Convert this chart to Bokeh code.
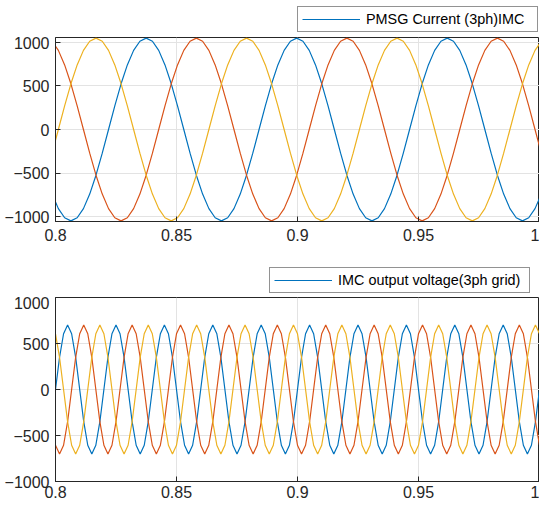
import numpy as np
from bokeh.plotting import figure
from bokeh.layouts import column
from bokeh.models import (Legend, LegendItem, FixedTicker,
                          NumeralTickFormatter, Range1d)
from bokeh.embed import file_html
from bokeh.resources import INLINE

# ---------------- data ----------------
x_ticks = [0.8, 0.85, 0.9, 0.95, 1.0]
y_ticks = [-1000, -500, 0, 500, 1000]
top_label = "PMSG Current (3ph)IMC"
bot_label = "IMC output voltage(3ph grid)"

# top panel: 3-phase PMSG current, read every 1/24 of a period (period ~0.0622 s)
top_t_first = 0.79859
top_t_step = 0.0025917
top_blue = [-742, -909, -1014,
            -1050, -1014, -909, -742, -525, -272, 0, 272, 525, 742, 909, 1014, 1050, 1014, 909, 742, 525, 272, 0, -272, -525, -742, -909, -1014,
            -1050, -1014, -909, -742, -525, -272, 0, 272, 525, 742, 909, 1014, 1050, 1014, 909, 742, 525, 272, 0, -272, -525, -742, -909, -1014,
            -1050, -1014, -909, -742, -525, -272, 0, 272, 525, 742, 909, 1014, 1050, 1014, 909, 742, 525, 272, 0, -272, -525, -742, -909, -1014,
            -1050, -1014, -909, -742]
top_red = [1014, 909, 742, 525, 272, 0, -272, -525, -742, -909, -1014,
           -1050, -1014, -909, -742, -525, -272, 0, 272, 525, 742, 909, 1014, 1050, 1014, 909, 742, 525, 272, 0, -272, -525, -742, -909, -1014,
           -1050, -1014, -909, -742, -525, -272, 0, 272, 525, 742, 909, 1014, 1050, 1014, 909, 742, 525, 272, 0, -272, -525, -742, -909, -1014,
           -1050, -1014, -909, -742, -525, -272, 0, 272, 525, 742, 909, 1014, 1050, 1014, 909, 742, 525, 272, 0, -272]
top_yellow = [-272, 0, 272, 525, 742, 909, 1014, 1050, 1014, 909, 742, 525, 272, 0, -272, -525, -742, -909, -1014,
              -1050, -1014, -909, -742, -525, -272, 0, 272, 525, 742, 909, 1014, 1050, 1014, 909, 742, 525, 272, 0, -272, -525, -742, -909, -1014,
              -1050, -1014, -909, -742, -525, -272, 0, 272, 525, 742, 909, 1014, 1050, 1014, 909, 742, 525, 272, 0, -272, -525, -742, -909, -1014,
              -1050, -1014, -909, -742, -525, -272, 0, 272, 525, 742, 909, 1014]

# bottom panel: 3-phase grid voltage, read every 1/12 of a period (50 Hz)
bot_t_first = 0.8
bot_t_step = 0.02 / 12
bot_blue = [0, 350, 606, 700, 606, 350, 0, -350, -606, -700, -606, -350,
            0, 350, 606, 700, 606, 350, 0, -350, -606, -700, -606, -350,
            0, 350, 606, 700, 606, 350, 0, -350, -606, -700, -606, -350,
            0, 350, 606, 700, 606, 350, 0, -350, -606, -700, -606, -350,
            0, 350, 606, 700, 606, 350, 0, -350, -606, -700, -606, -350,
            0, 350, 606, 700, 606, 350, 0, -350, -606, -700, -606, -350,
            0, 350, 606, 700, 606, 350, 0, -350, -606, -700, -606, -350,
            0, 350, 606, 700, 606, 350, 0, -350, -606, -700, -606, -350,
            0, 350, 606, 700, 606, 350, 0, -350, -606, -700, -606, -350,
            0, 350, 606, 700, 606, 350, 0, -350, -606, -700, -606, -350,
            0]
bot_red = [-606, -700, -606, -350,
           0, 350, 606, 700, 606, 350, 0, -350, -606, -700, -606, -350,
           0, 350, 606, 700, 606, 350, 0, -350, -606, -700, -606, -350,
           0, 350, 606, 700, 606, 350, 0, -350, -606, -700, -606, -350,
           0, 350, 606, 700, 606, 350, 0, -350, -606, -700, -606, -350,
           0, 350, 606, 700, 606, 350, 0, -350, -606, -700, -606, -350,
           0, 350, 606, 700, 606, 350, 0, -350, -606, -700, -606, -350,
           0, 350, 606, 700, 606, 350, 0, -350, -606, -700, -606, -350,
           0, 350, 606, 700, 606, 350, 0, -350, -606, -700, -606, -350,
           0, 350, 606, 700, 606, 350, 0, -350, -606, -700, -606, -350,
           0, 350, 606, 700, 606, 350, 0, -350, -606]
bot_yellow = [606, 350, 0, -350, -606, -700, -606, -350,
              0, 350, 606, 700, 606, 350, 0, -350, -606, -700, -606, -350,
              0, 350, 606, 700, 606, 350, 0, -350, -606, -700, -606, -350,
              0, 350, 606, 700, 606, 350, 0, -350, -606, -700, -606, -350,
              0, 350, 606, 700, 606, 350, 0, -350, -606, -700, -606, -350,
              0, 350, 606, 700, 606, 350, 0, -350, -606, -700, -606, -350,
              0, 350, 606, 700, 606, 350, 0, -350, -606, -700, -606, -350,
              0, 350, 606, 700, 606, 350, 0, -350, -606, -700, -606, -350,
              0, 350, 606, 700, 606, 350, 0, -350, -606, -700, -606, -350,
              0, 350, 606, 700, 606, 350, 0, -350, -606, -700, -606, -350,
              0, 350, 606, 700, 606]

top_t = top_t_first + top_t_step * np.arange(len(top_blue))
bot_t = bot_t_first + bot_t_step * np.arange(len(bot_blue))

# ---------------- styling ----------------
C_BLUE, C_RED, C_YEL = "#0072BD", "#D95319", "#EDB120"
AX = "#262626"
FONT = "Liberation Sans"
W = 539


def style_main_axes(p, x_standoff):
    p.outline_line_color = AX
    p.outline_line_width = 1
    xa = p.below[0]
    ya = p.left[0]
    xa.ticker = FixedTicker(ticks=x_ticks)
    xa.formatter = NumeralTickFormatter(format="0.[00]")
    ya.ticker = FixedTicker(ticks=y_ticks)
    for ax in (xa, ya):
        ax.axis_line_color = AX
        ax.major_tick_line_color = AX
        ax.major_tick_in = 5
        ax.major_tick_out = 0
        ax.minor_tick_in = 0
        ax.minor_tick_out = 0
        ax.major_label_text_font = FONT
        ax.major_label_text_font_size = "16px"
        ax.major_label_text_color = AX
    xa.major_label_standoff = x_standoff
    ya.major_label_standoff = 6
    p.xgrid.ticker = FixedTicker(ticks=x_ticks)
    p.ygrid.ticker = FixedTicker(ticks=y_ticks)
    p.grid.grid_line_color = "#e3e3e3"
    p.grid.grid_line_width = 1


def legend_strip(label, color, t, series, height, loc, label_w):
    """A thin strip above an axes that carries the legend box.
    The series is drawn here only as a legend key; the strip's y range lies
    above all data, so nothing of the line itself shows in the strip."""
    f = figure(width=W, height=height, output_backend="svg", toolbar_location=None,
               x_axis_type=None, y_axis_type=None,
               x_range=Range1d(0.8, 1.0), y_range=Range1d(5000, 6000),
               min_border_left=55, min_border_right=0, min_border_top=0,
               min_border_bottom=0, background_fill_color="white",
               border_fill_color="white", outline_line_color=None)
    f.grid.visible = False
    key = f.line(t, series, line_color=color, line_width=1.2)
    f.add_layout(Legend(items=[LegendItem(label=label, renderers=[key])],
                        location=loc, margin=0, padding=4, spacing=0,
                        glyph_width=58, glyph_height=16, label_height=16,
                        label_standoff=6, label_width=label_w,
                        label_text_font=FONT, label_text_font_size="14.4px",
                        label_text_color="black",
                        border_line_color=AX, border_line_width=1,
                        background_fill_color="white",
                        background_fill_alpha=1.0))
    return f


# ---------------- top ----------------
lf1 = legend_strip(top_label, C_BLUE, top_t, top_blue, 36, (242, 4), 167)

p1 = figure(width=W, height=220, output_backend="svg", toolbar_location=None,
            x_range=Range1d(0.8, 1.0), y_range=Range1d(-1057, 1057),
            min_border_left=55, min_border_right=0, min_border_top=1,
            min_border_bottom=35, background_fill_color="white",
            border_fill_color="white")
style_main_axes(p1, 7)
p1.line(top_t, top_blue, line_color=C_BLUE, line_width=1.2)
p1.line(top_t, top_red, line_color=C_RED, line_width=1.2)
p1.line(top_t, top_yellow, line_color=C_YEL, line_width=1.2)

# ---------------- bottom ----------------
lf2 = legend_strip(bot_label, C_BLUE, bot_t, bot_blue, 40, (214, 3), 187)

p2 = figure(width=W, height=209, output_backend="svg", toolbar_location=None,
            x_range=Range1d(0.8, 1.0), y_range=Range1d(-1000, 1000),
            min_border_left=55, min_border_right=0, min_border_top=1,
            min_border_bottom=24, background_fill_color="white",
            border_fill_color="white")
style_main_axes(p2, 4)
p2.line(bot_t, bot_blue, line_color=C_BLUE, line_width=1.2)
p2.line(bot_t, bot_red, line_color=C_RED, line_width=1.2)
p2.line(bot_t, bot_yellow, line_color=C_YEL, line_width=1.2)

layout = column(lf1, p1, lf2, p2, spacing=0)
open("out.html", "w").write(file_html(layout, INLINE))
